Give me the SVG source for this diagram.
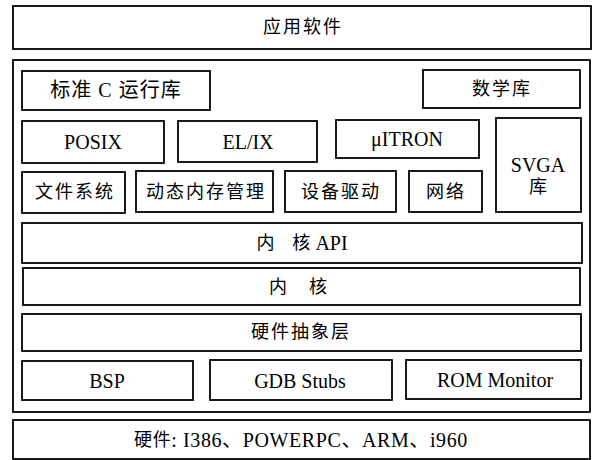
<svg xmlns="http://www.w3.org/2000/svg" width="594" height="460" viewBox="0 0 594 460">
<style>
rect{fill:#fff;stroke:#000;stroke-width:1.8}
.t{font-size:20px;text-anchor:middle;dominant-baseline:central;fill:#000}
.cn{font-size:18px;letter-spacing:2px}
</style>
<rect x="0" y="0" width="594" height="460" style="stroke:none"/>
<g font-family="Liberation Serif, Noto Sans CJK SC, serif">
<g id="app"><rect x="13" y="6" width="578" height="43"/><text class="t cn" x="303" y="27">应用软件</text></g>
<g id="ecos"><rect x="13" y="60" width="577" height="352"/></g>
<g id="libc"><rect x="22" y="71" width="188" height="39"/><text class="t" x="116" y="90" letter-spacing="1">标准 C 运行库</text></g>
<g id="math"><rect x="423" y="70" width="157" height="38"/><text class="t cn" x="502" y="89">数学库</text></g>
<g id="posix"><rect x="22" y="121" width="142" height="42"/><text class="t" x="93" y="142">POSIX</text></g>
<g id="elix"><rect x="178" y="121" width="139" height="41"/><text class="t" x="248" y="142">EL/IX</text></g>
<g id="uitron"><rect x="336" y="120" width="143" height="38"/><text class="t" x="407" y="139">μITRON</text></g>
<g id="svga"><rect x="496" y="118" width="85" height="94"/><text class="t" x="538" y="165">SVGA</text><text class="t cn" x="539" y="187">库</text></g>
<g id="fs"><rect x="22" y="172" width="103" height="41"/><text class="t cn" x="75" y="192">文件系统</text></g>
<g id="mem"><rect x="136" y="171" width="137" height="41"/><text class="t cn" x="206" y="192">动态内存管理</text></g>
<g id="drv"><rect x="285" y="171" width="111" height="41"/><text class="t cn" x="341" y="192">设备驱动</text></g>
<g id="net"><rect x="409" y="171" width="73" height="41"/><text class="t cn" x="446" y="192">网络</text></g>
<g id="kapi"><rect x="22" y="223" width="560" height="40"/><text class="t" x="302" y="243"><tspan style="font-size:18px">内　核</tspan> API</text></g>
<g id="kernel"><rect x="23" y="268" width="557" height="37"/><text class="t cn" x="299" y="287">内　核</text></g>
<g id="hal"><rect x="22" y="314" width="559" height="37"/><text class="t cn" x="301" y="332">硬件抽象层</text></g>
<g id="bsp"><rect x="22" y="361" width="171" height="39"/><text class="t" x="107" y="381">BSP</text></g>
<g id="gdb"><rect x="210" y="360" width="182" height="40"/><text class="t" x="300" y="381">GDB Stubs</text></g>
<g id="rom"><rect x="406" y="360" width="175" height="39"/><text class="t" x="495" y="380">ROM Monitor</text></g>
<g id="hw"><rect x="13" y="420" width="577" height="39"/><text class="t" x="301" y="440" letter-spacing="0.6"><tspan style="font-size:18px">硬件</tspan>: I386、POWERPC、ARM、i960</text></g>
</g>
</svg>
